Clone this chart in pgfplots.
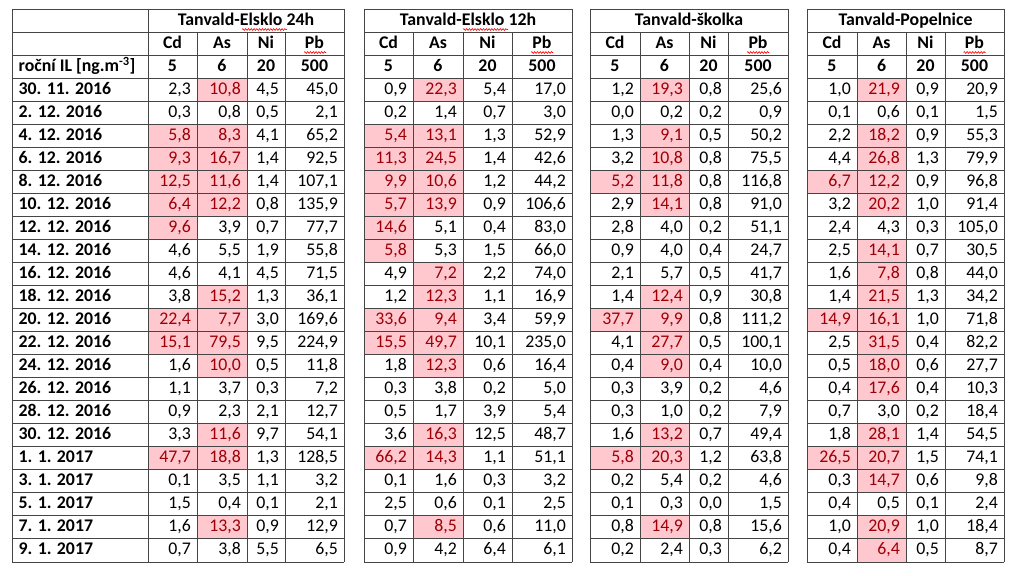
\documentclass[border=0pt]{standalone}
\usepackage{fontspec}
\setmainfont{Carlito}
\usepackage{pgfplots}
\usepackage{pgfplotstable}
\pgfplotsset{compat=1.18}
\usetikzlibrary{decorations.pathmorphing}

\definecolor{cellpink}{HTML}{FFC7CE}
\definecolor{cellred}{HTML}{9C0006}
\definecolor{gridgray}{HTML}{454545}

\newcommand{\fs}{\fontsize{17.8}{21}\selectfont}

% filled cell, half width = mark size
\pgfdeclareplotmark{cell}{%
  \pgfpathrectangle{\pgfqpoint{-\pgfplotmarksize}{-11.5pt}}{\pgfqpoint{2\pgfplotmarksize}{23pt}}%
  \pgfusepathqfill}

\pgfplotstableread[col sep=comma]{
row,date
0,30. 11. 2016
1,2. 12. 2016
2,4. 12. 2016
3,6. 12. 2016
4,8. 12. 2016
5,10. 12. 2016
6,12. 12. 2016
7,14. 12. 2016
8,16. 12. 2016
9,18. 12. 2016
10,20. 12. 2016
11,22. 12. 2016
12,24. 12. 2016
13,26. 12. 2016
14,28. 12. 2016
15,30. 12. 2016
16,1. 1. 2017
17,3. 1. 2017
18,5. 1. 2017
19,7. 1. 2017
20,9. 1. 2017
}\dates

% Tanvald-Elsklo 24h
\pgfplotstableread{
Cd As Ni Pb
2.3 10.8 4.5 45.0
0.3 0.8 0.5 2.1
5.8 8.3 4.1 65.2
9.3 16.7 1.4 92.5
12.5 11.6 1.4 107.1
6.4 12.2 0.8 135.9
9.6 3.9 0.7 77.7
4.6 5.5 1.9 55.8
4.6 4.1 4.5 71.5
3.8 15.2 1.3 36.1
22.4 7.7 3.0 169.6
15.1 79.5 9.5 224.9
1.6 10.0 0.5 11.8
1.1 3.7 0.3 7.2
0.9 2.3 2.1 12.7
3.3 11.6 9.7 54.1
47.7 18.8 1.3 128.5
0.1 3.5 1.1 3.2
1.5 0.4 0.1 2.1
1.6 13.3 0.9 12.9
0.7 3.8 5.5 6.5
}\tabA

% Tanvald-Elsklo 12h
\pgfplotstableread{
Cd As Ni Pb
0.9 22.3 5.4 17.0
0.2 1.4 0.7 3.0
5.4 13.1 1.3 52.9
11.3 24.5 1.4 42.6
9.9 10.6 1.2 44.2
5.7 13.9 0.9 106.6
14.6 5.1 0.4 83.0
5.8 5.3 1.5 66.0
4.9 7.2 2.2 74.0
1.2 12.3 1.1 16.9
33.6 9.4 3.4 59.9
15.5 49.7 10.1 235.0
1.8 12.3 0.6 16.4
0.3 3.8 0.2 5.0
0.5 1.7 3.9 5.4
3.6 16.3 12.5 48.7
66.2 14.3 1.1 51.1
0.1 1.6 0.3 3.2
2.5 0.6 0.1 2.5
0.7 8.5 0.6 11.0
0.9 4.2 6.4 6.1
}\tabB

% Tanvald-skolka
\pgfplotstableread{
Cd As Ni Pb
1.2 19.3 0.8 25.6
0.0 0.2 0.2 0.9
1.3 9.1 0.5 50.2
3.2 10.8 0.8 75.5
5.2 11.8 0.8 116.8
2.9 14.1 0.8 91.0
2.8 4.0 0.2 51.1
0.9 4.0 0.4 24.7
2.1 5.7 0.5 41.7
1.4 12.4 0.9 30.8
37.7 9.9 0.8 111.2
4.1 27.7 0.5 100.1
0.4 9.0 0.4 10.0
0.3 3.9 0.2 4.6
0.3 1.0 0.2 7.9
1.6 13.2 0.7 49.4
5.8 20.3 1.2 63.8
0.2 5.4 0.2 4.6
0.1 0.3 0.0 1.5
0.8 14.9 0.8 15.6
0.2 2.4 0.3 6.2
}\tabC

% Tanvald-Popelnice
\pgfplotstableread{
Cd As Ni Pb
1.0 21.9 0.9 20.9
0.1 0.6 0.1 1.5
2.2 18.2 0.9 55.3
4.4 26.8 1.3 79.9
6.7 12.2 0.9 96.8
3.2 20.2 1.0 91.4
2.4 4.3 0.3 105.0
2.5 14.1 0.7 30.5
1.6 7.8 0.8 44.0
1.4 21.5 1.3 34.2
14.9 16.1 1.0 71.8
2.5 31.5 0.4 82.2
0.5 18.0 0.6 27.7
0.4 17.6 0.4 10.3
0.7 3.0 0.2 18.4
1.8 28.1 1.4 54.5
26.5 20.7 1.5 74.1
0.3 14.7 0.6 9.8
0.4 0.5 0.1 2.4
1.0 20.9 1.0 18.4
0.4 6.4 0.5 8.7
}\tabD

% #1 table, #2 column, #3 left, #4 right, #5 limit
\newcommand{\hl}[5]{%
  \addplot[only marks, mark=cell, mark size={(#4-#3)/2}, color=cellpink,
    restrict expr to domain={\thisrow{#2}}{#5.001:100000}]
    table[x expr={(#3+#4)/2}, y expr={89.6+23.04*\coordindex}] {#1};}
\newcommand{\vals}[5]{%
  \addplot[draw=none, mark=none, nodes near coords, point meta={\thisrow{#2}},
    restrict expr to domain={\thisrow{#2}}{-1:#5},
    every node near coord/.append style={anchor=base east, text=black}]
    table[x expr={#4-6}, y expr={94.1+23.04*\coordindex}] {#1};}
\newcommand{\redvals}[5]{%
  \addplot[draw=none, mark=none, nodes near coords, point meta={\thisrow{#2}},
    restrict expr to domain={\thisrow{#2}}{#5.001:100000},
    every node near coord/.append style={anchor=base east, text=cellred}]
    table[x expr={#4-6}, y expr={94.1+23.04*\coordindex}] {#1};}

% #1 table, #2..#6 column borders, #7 title
\newcommand{\block}[7]{%
  \hl{#1}{Cd}{#2}{#3}{5}
  \hl{#1}{As}{#3}{#4}{6}
  \vals{#1}{Cd}{#2}{#3}{5}
  \redvals{#1}{Cd}{#2}{#3}{5}
  \vals{#1}{As}{#3}{#4}{6}
  \redvals{#1}{As}{#3}{#4}{6}
  \vals{#1}{Ni}{#4}{#5}{20}
  \vals{#1}{Pb}{#5}{#6}{500}
  \node[hd] at (axis cs:{(#2+#6)/2},25.5) {#7};
  \node[hd] at (axis cs:{(#2+#3)/2},49) {Cd};
  \node[hd] at (axis cs:{(#3+#4)/2},49) {As};
  \node[hd] at (axis cs:{(#4+#5)/2},49) {Ni};
  \node[hd] at (axis cs:{(#5+#6)/2},49) {Pb};
  \node[hd] at (axis cs:{(#2+#3)/2},72) {5};
  \node[hd] at (axis cs:{(#3+#4)/2},72) {6};
  \node[hd] at (axis cs:{(#4+#5)/2},72) {20};
  \node[hd] at (axis cs:{(#5+#6)/2},72) {500};
}

% #1 leftmost, #2..#6 column borders
\newcommand{\grid}[6]{%
  \begin{pgfonlayer}{axis foreground}
  \pgfplotsinvokeforeach{0,...,24}{\draw[gridline] (axis cs:#1,{9+23.04*##1}) -- (axis cs:#6,{9+23.04*##1});}
  \pgfplotsinvokeforeach{#1,#2,#6}{\draw[gridline] (axis cs:##1,9) -- (axis cs:##1,562);}
  \pgfplotsinvokeforeach{#3,#4,#5}{\draw[gridline] (axis cs:##1,32.04) -- (axis cs:##1,562);}
  \end{pgfonlayer}}

\newcommand{\squig}[3]{%
  \draw[red, line width=0.6pt, decorate, decoration={snake, amplitude=0.9pt, segment length=2.8pt}]
    (axis cs:#1,#3) -- (axis cs:#2,#3);}

\begin{document}
\fs
\begin{tikzpicture}[
  gridline/.style={draw=gridgray, line width=0.9pt},
  hd/.style={anchor=base, inner sep=0pt, font=\fs\bfseries}]
\begin{axis}[
  set layers,
  width=1024pt, height=575pt, scale only axis,
  xmin=0, xmax=1024, ymin=0, ymax=575, y dir=reverse,
  hide axis, clip=false,
  every node near coord/.append style={inner sep=0pt, font=\fs},
  /pgf/number format/fixed,
  /pgf/number format/fixed zerofill,
  /pgf/number format/precision=1,
  /pgf/number format/use comma,
  /pgf/number format/1000 sep={},
  /pgf/number format/assume math mode=true,
]
\begin{pgfonlayer}{axis background}
\fill[white] (axis cs:0,0) rectangle (axis cs:1024,575);
\end{pgfonlayer}

% dates
\addplot[draw=none, mark=none, nodes near coords, point meta=explicit symbolic,
  every node near coord/.append style={anchor=base west, text=black, font=\fs\bfseries}]
  table[x expr=18.5, y expr={94.1+23.04*\thisrow{row}}, meta=date] {\dates};
\node[hd, anchor=base west] at (axis cs:18.5,72) {roční IL [ng.m\textsuperscript{-3}]};

\block{\tabA}{148}{197}{247}{285}{344}{Tanvald-Elsklo 24h}
\block{\tabB}{364}{413}{463}{512}{572}{Tanvald-Elsklo 12h}
\block{\tabC}{590}{640}{689}{728}{788}{Tanvald-školka}
\block{\tabD}{807}{857}{906}{945}{1004}{Tanvald-Popelnice}

\grid{12}{148}{197}{247}{285}{344}
\grid{364}{364}{413}{463}{512}{572}
\grid{590}{590}{640}{689}{728}{788}
\grid{807}{807}{857}{906}{945}{1004}

\squig{242}{287}{29.5}
\squig{463}{508}{29.5}
\squig{304}{326}{52.5}
\squig{531}{553}{52.5}
\squig{747}{769}{52.5}
\squig{963.5}{985.5}{52.5}
\end{axis}
\end{tikzpicture}
\end{document}
